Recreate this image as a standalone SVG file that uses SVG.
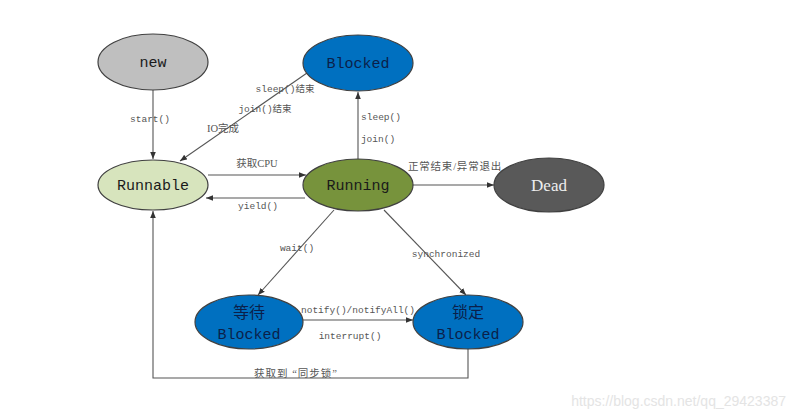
<svg xmlns="http://www.w3.org/2000/svg" width="796" height="419" viewBox="0 0 796 419">
<defs>
<marker id="ah" viewBox="0 0 10 10" refX="10" refY="5" markerWidth="7" markerHeight="7" orient="auto" markerUnits="userSpaceOnUse">
<path d="M0,1 L10,5 L0,9 z" fill="#333"/>
</marker>
<style>
.node{stroke:#404040;stroke-width:1.2}
.nt{font-family:"Liberation Mono","Noto Sans CJK SC",monospace;font-size:15px;text-anchor:middle;fill:#1a1a1a}
.bt{fill:#0b1f4a}
.lbl{font-family:"Liberation Serif","Noto Sans CJK SC",serif;font-size:10.5px;fill:#555;text-anchor:middle}
.ml{font-family:"Liberation Mono","Noto Sans CJK SC",monospace;font-size:9.5px;fill:#555;text-anchor:middle}
.edge{stroke:#555;stroke-width:1.1;fill:none;marker-end:url(#ah)}
</style>
</defs>
<rect width="796" height="419" fill="#ffffff"/>
<g id="connectors">
<line class="edge" x1="153" y1="90" x2="153" y2="159"/>
<line class="edge" x1="307" y1="73" x2="180" y2="161"/>
<line class="edge" x1="358" y1="159" x2="358" y2="92"/>
<line class="edge" x1="208" y1="175" x2="306" y2="175"/>
<line class="edge" x1="305" y1="198" x2="206" y2="198"/>
<line class="edge" x1="413" y1="185" x2="494" y2="185"/>
<line class="edge" x1="334" y1="210" x2="258" y2="295"/>
<line class="edge" x1="384" y1="210" x2="466" y2="295"/>
<line class="edge" x1="303" y1="320" x2="413" y2="320"/>
<polyline class="edge" points="468,349 468,378 153,378 153,211"/>
<text class="ml" x="150" y="122">start()</text>
<text class="ml" x="285" y="92">sleep()结束</text>
<text class="ml" x="265" y="112">join()结束</text>
<text class="lbl" x="223" y="132">IO完成</text>
<text class="ml" x="381" y="120">sleep()</text>
<text class="ml" x="378" y="142">join()</text>
<text class="lbl" x="257" y="167">获取CPU</text>
<text class="ml" x="258" y="209">yield()</text>
<text class="lbl" x="455" y="170" style="letter-spacing:0.8px">正常结束/异常退出</text>
<text class="ml" x="297" y="251">wait()</text>
<text class="ml" x="446" y="257">synchronized</text>
<text class="ml" x="358" y="313">notify()/notifyAll()</text>
<text class="ml" x="350" y="339">interrupt()</text>
<text class="lbl" x="296" y="377" style="letter-spacing:1px">获取到 “同步锁”</text>
</g>
<g id="new">
<ellipse class="node" cx="153" cy="62" rx="55" ry="28" fill="#bfbfbf"/>
<text class="nt" x="153" y="67">new</text>
</g>
<g id="blocked">
<ellipse class="node" cx="358" cy="63" rx="55" ry="28" fill="#0070c0"/>
<text class="nt bt" x="358" y="68">Blocked</text>
</g>
<g id="runnable">
<ellipse class="node" cx="153" cy="185" rx="55" ry="25" fill="#d7e4bd"/>
<text class="nt" x="153" y="190">Runnable</text>
</g>
<g id="running">
<ellipse class="node" cx="358" cy="185" rx="55" ry="26" fill="#77933c"/>
<text class="nt" x="358" y="190">Running</text>
</g>
<g id="dead">
<ellipse class="node" cx="549" cy="185" rx="55" ry="27" fill="#595959"/>
<text x="549" y="191" style="font-family:'Liberation Serif',serif;font-size:17px;fill:#eeeeee;text-anchor:middle">Dead</text>
</g>
<g id="waiting">
<ellipse class="node" cx="249" cy="322" rx="54" ry="27" fill="#0070c0"/>
<text class="nt bt" x="249" y="318" style="font-family:'Noto Sans CJK SC',sans-serif;font-size:16px">等待</text>
<text class="nt bt" x="249" y="339">Blocked</text>
</g>
<g id="locked">
<ellipse class="node" cx="468" cy="322" rx="55" ry="27" fill="#0070c0"/>
<text class="nt bt" x="468" y="318" style="font-family:'Noto Sans CJK SC',sans-serif;font-size:16px">锁定</text>
<text class="nt bt" x="468" y="339">Blocked</text>
</g>
<text x="786" y="406" style="font-family:'Liberation Sans',sans-serif;font-size:14px;fill:#e4e4e4;text-anchor:end">https://blog.csdn.net/qq_29423387</text>
</svg>
